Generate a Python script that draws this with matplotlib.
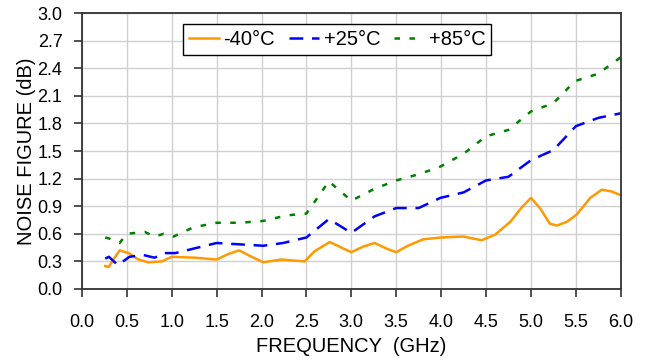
import numpy as np
import matplotlib
matplotlib.use("Agg")
import matplotlib.pyplot as plt

plt.rcParams['font.family'] = ['Liberation Sans', 'DejaVu Sans']

# -40C
f_cold = [0.26, 0.30, 0.35, 0.42, 0.52, 0.63, 0.74, 0.89, 1.0, 1.26, 1.5, 1.63, 1.75, 1.89,
          2.02, 2.22, 2.48, 2.59, 2.76, 2.89, 3.0, 3.13, 3.26, 3.39, 3.5, 3.63, 3.80,
          4.0, 4.25, 4.45, 4.60, 4.77, 4.90, 5.0, 5.10, 5.21, 5.29, 5.40, 5.51, 5.66, 5.79, 5.90, 6.0]
nf_cold = [0.25, 0.24, 0.32, 0.42, 0.39, 0.32, 0.29, 0.30, 0.35, 0.34, 0.32, 0.38, 0.42, 0.35,
           0.29, 0.32, 0.30, 0.41, 0.51, 0.45, 0.40, 0.46, 0.50, 0.44, 0.40, 0.47, 0.54,
           0.56, 0.57, 0.53, 0.59, 0.73, 0.89, 0.99, 0.88, 0.71, 0.69, 0.73, 0.81, 0.99, 1.08, 1.06, 1.02]

# +25C
f_room = [0.26, 0.30, 0.40, 0.53, 0.68, 0.81, 0.91, 1.04, 1.5, 2.02, 2.24, 2.5, 2.75, 3.0,
          3.26, 3.5, 3.75, 3.99, 4.25, 4.5, 4.75, 5.0, 5.25, 5.5, 5.75, 6.0]
nf_room = [0.33, 0.35, 0.26, 0.35, 0.37, 0.34, 0.39, 0.39, 0.50, 0.47, 0.50, 0.56, 0.76, 0.61,
           0.79, 0.88, 0.88, 0.99, 1.05, 1.18, 1.22, 1.40, 1.51, 1.77, 1.86, 1.91]

# +85C
f_hot = [0.26, 0.30, 0.42, 0.50, 0.70, 0.81, 0.91, 1.02, 1.24, 1.5, 1.76, 2.02, 2.28, 2.5,
         2.75, 3.0, 3.26, 3.5, 3.76, 3.99, 4.25, 4.5, 4.75, 5.0, 5.25, 5.49, 5.75, 6.0]
nf_hot = [0.56, 0.55, 0.50, 0.60, 0.62, 0.57, 0.60, 0.57, 0.67, 0.72, 0.72, 0.74, 0.80, 0.82,
          1.17, 0.96, 1.09, 1.18, 1.25, 1.33, 1.47, 1.66, 1.73, 1.93, 2.02, 2.26, 2.34, 2.52]

fig = plt.figure(figsize=(6.5, 3.62), dpi=100)
ax = fig.add_axes([0.126, 0.2017, 0.829, 0.7623])

ax.plot(f_cold, nf_cold, color='#FF9900', lw=1.8, label='-40°C', solid_joinstyle='round')
ax.plot(f_room, nf_room, color='#0000FF', lw=1.8, dashes=(5.5, 3.5), label='+25°C')
ax.plot(f_hot, nf_hot, color='#008000', lw=1.8, dashes=(2.2, 3.8), label='+85°C')

xt = np.arange(0, 6.01, 0.5)
yt = np.arange(0, 3.01, 0.3)
ax.set_xlim(0, 6)
ax.set_ylim(0, 3)
ax.set_xticks(xt)
ax.set_yticks(yt)
ax.set_xticklabels([f'{v:.1f}' for v in xt])
ax.set_yticklabels([f'{v:.1f}' for v in yt])
ax.grid(True, color='#d0d0d0', lw=1)
ax.set_axisbelow(True)
for s in ax.spines.values():
    s.set_color('#333333')
    s.set_linewidth(1.3)
ax.tick_params(direction='out', length=6, width=1.2, labelsize=13, color='#333333')
ax.tick_params(axis='x', pad=12)
ax.tick_params(axis='y', pad=8)

ax.set_xlabel('FREQUENCY  (GHz)', fontsize=14.5, labelpad=4)
ax.set_ylabel('NOISE FIGURE (dB)', fontsize=14.5, labelpad=1)

leg = ax.legend(loc='upper center', bbox_to_anchor=(0.474, 0.96), ncol=3, fontsize=14.5,
                frameon=True, fancybox=False, edgecolor='black', framealpha=1,
                handlelength=1.45, columnspacing=0.7, handletextpad=0.25,
                borderpad=0.3, borderaxespad=0)
leg.get_frame().set_linewidth(1.0)

fig.savefig('out.png', dpi=100)
